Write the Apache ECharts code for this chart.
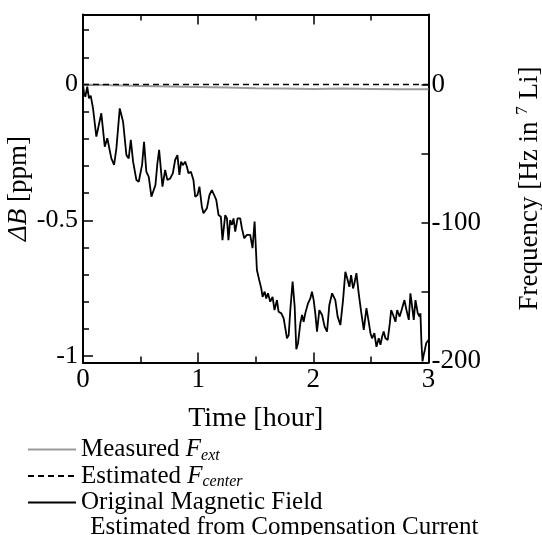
<!DOCTYPE html>
<html>
<head>
<meta charset="utf-8">
<script src="https://cdn.jsdelivr.net/npm/echarts@6/dist/echarts.min.js"></script>
<style>
    html, body { margin: 0; padding: 0; background: #fff; }
    #main { width: 542px; height: 535px; }
</style>
</head>
<body>
<div id="main"></div>
<script>
// original magnetic field estimated from compensation current (ppm)
var hours = [
    0, 0.009, 0.02, 0.037, 0.052, 0.067, 0.087, 0.116, 0.159, 0.189,
    0.211, 0.246, 0.27, 0.29, 0.319, 0.348, 0.377, 0.397, 0.415, 0.435,
    0.464, 0.484, 0.513, 0.53, 0.55, 0.571, 0.594, 0.611, 0.629, 0.646,
    0.661, 0.69, 0.713, 0.733, 0.757, 0.78, 0.8, 0.82, 0.837, 0.852,
    0.867, 0.887, 0.902, 0.916, 0.937, 0.959, 0.974, 0.994, 1.011, 1.032,
    1.046, 1.076, 1.098, 1.119, 1.139, 1.157, 1.177, 1.197, 1.211, 1.235,
    1.25, 1.263, 1.278, 1.293, 1.307, 1.322, 1.342, 1.365, 1.38, 1.4,
    1.423, 1.437, 1.452, 1.472, 1.49, 1.51, 1.53, 1.548, 1.559, 1.577,
    1.591, 1.606, 1.626, 1.646, 1.663, 1.684, 1.698, 1.722, 1.742, 1.757,
    1.771, 1.786, 1.8, 1.82, 1.838, 1.852, 1.867, 1.887, 1.902, 1.916,
    1.93, 1.954, 1.974, 1.988, 2.003, 2.017, 2.032, 2.052, 2.076, 2.098,
    2.119, 2.139, 2.163, 2.171, 2.191, 2.211, 2.235, 2.258, 2.278, 2.298,
    2.313, 2.328, 2.345, 2.357, 2.374, 2.394, 2.415, 2.438, 2.461, 2.481,
    2.496, 2.51, 2.53, 2.548, 2.568, 2.583, 2.597, 2.611, 2.626, 2.646,
    2.664, 2.676, 2.693, 2.713, 2.728, 2.75, 2.771, 2.791, 2.809, 2.829,
    2.843, 2.858, 2.872, 2.887, 2.907, 2.922, 2.93, 2.939, 2.948, 2.956,
    2.968, 2.98, 3.0
];
var fieldPpm = [
    0, -0.032, -0.045, -0.008, -0.051, -0.041, -0.088, -0.192, -0.106, -0.229,
    -0.198, -0.272, -0.296, -0.235, -0.088, -0.137, -0.26, -0.272, -0.204, -0.284,
    -0.352, -0.358, -0.296, -0.211, -0.321, -0.34, -0.413, -0.419, -0.37, -0.29,
    -0.241, -0.376, -0.315, -0.352, -0.346, -0.327, -0.278, -0.26, -0.333, -0.284,
    -0.297, -0.284, -0.303, -0.327, -0.321, -0.352, -0.413, -0.407, -0.376, -0.45,
    -0.474, -0.456, -0.407, -0.389, -0.407, -0.425, -0.481, -0.487, -0.573, -0.481,
    -0.493, -0.573, -0.499, -0.517, -0.493, -0.542, -0.493, -0.493, -0.53, -0.566,
    -0.554, -0.548, -0.554, -0.603, -0.505, -0.683, -0.72, -0.751, -0.782, -0.763,
    -0.788, -0.769, -0.8, -0.782, -0.831, -0.794, -0.837, -0.843, -0.861, -0.898,
    -0.935, -0.923, -0.831, -0.726, -0.818, -0.975, -0.953, -0.88, -0.849, -0.874,
    -0.843, -0.806, -0.788, -0.763, -0.794, -0.843, -0.91, -0.831, -0.849, -0.892,
    -0.91, -0.812, -0.769, -0.765, -0.794, -0.855, -0.886, -0.794, -0.69, -0.72,
    -0.745, -0.702, -0.751, -0.732, -0.695, -0.769, -0.837, -0.904, -0.824, -0.874,
    -0.916, -0.935, -0.916, -0.966, -0.935, -0.959, -0.929, -0.91, -0.935, -0.941,
    -0.88, -0.831, -0.849, -0.874, -0.831, -0.855, -0.824, -0.794, -0.831, -0.867,
    -0.769, -0.818, -0.867, -0.794, -0.843, -0.855, -0.843, -0.953, -1.02, -1.0,
    -0.978, -0.953, -0.941
];

// measured F_ext (ppm)
var measuredHours = [0, 0.25, 0.5, 0.75, 1.0, 1.25, 1.5, 1.75, 2.0, 2.25, 2.5, 2.75, 3.0];
var measuredPpm = [0, -0.003, -0.005, -0.007, -0.009, -0.011, -0.014, -0.015, -0.016, -0.015, -0.016, -0.017, -0.017];

// estimated F_center (ppm)
var centerHours = [0, 3];
var centerPpm = [0, 0];

// axis ticks
var ppmLabels = [-1, -0.5, 0];
var ppmMinorTicks = [-0.9, -0.8, -0.7, -0.6, -0.4, -0.3, -0.2, -0.1, 0.1, 0.2];
var hzLabels = [-200, -100, 0];
var hzTicks = [-150, -100, -50, 0];

var legendNames = ['Measured', 'Estimated', 'Original'];
var legendTexts = {
    'Measured': '{n|Measured }{f|F}{s|ext}',
    'Estimated': '{n|Estimated }{f|F}{s|center}',
    'Original': '{n|Original Magnetic Field}'
};

var serif = 'Liberation Serif';

function zip(xs, ys) {
    return xs.map(function(x, i) { return [x, ys[i]]; });
}

var frameLine = {show: true, onZero: false, lineStyle: {color: '#000', width: 2}};

var option = {
    animation: false,
    backgroundColor: '#fff',
    title: {
        text: ' Estimated from Compensation Current',
        left: 84,
        top: 515,
        padding: 0,
        textStyle: {fontFamily: serif, fontSize: 25, fontWeight: 'normal', color: '#000'}
    },
    legend: {
        data: legendNames,
        orient: 'vertical',
        left: 27,
        top: 437,
        padding: 0,
        itemWidth: 48,
        itemHeight: 12,
        itemGap: 0,
        itemStyle: {opacity: 0, borderWidth: 0},
        formatter: function(name) { return legendTexts[name]; },
        textStyle: {
            fontFamily: serif,
            fontSize: 25,
            color: '#000',
            rich: {
                n: {fontFamily: serif, fontSize: 25, color: '#000'},
                f: {fontFamily: serif, fontSize: 25, fontStyle: 'italic', color: '#000'},
                s: {fontFamily: serif, fontSize: 16, fontStyle: 'italic', color: '#000', padding: [12, 0, 0, 0]}
            }
        }
    },
    grid: {left: 83, top: 14.5, width: 345.5, height: 348, containLabel: false, outerBoundsMode: 'none'},
    xAxis: [
        {
            type: 'value',
            position: 'bottom',
            min: 0,
            max: 3,
            interval: 1,
            axisLine: frameLine,
            axisTick: {inside: true, length: 10, lineStyle: {color: '#000', width: 1.5}},
            minorTick: {show: true, splitNumber: 2, length: 6, lineStyle: {color: '#000', width: 1.5}},
            splitLine: {show: false},
            axisLabel: {fontFamily: serif, fontSize: 27, color: '#000', margin: 4},
            name: 'Time [hour]',
            nameLocation: 'middle',
            nameGap: 42,
            nameTextStyle: {fontFamily: serif, fontSize: 28, color: '#000'}
        },
        {
            type: 'value',
            position: 'top',
            min: 0,
            max: 3,
            interval: 1,
            axisLine: frameLine,
            axisTick: {inside: true, length: 10, lineStyle: {color: '#000', width: 1.5}},
            minorTick: {show: true, splitNumber: 2, length: 6, lineStyle: {color: '#000', width: 1.5}},
            splitLine: {show: false},
            axisLabel: {show: false}
        }
    ],
    yAxis: [
        {
            type: 'value',
            position: 'left',
            min: -1.024,
            max: 0.258,
            axisLine: frameLine,
            axisTick: {inside: true, length: 10, customValues: ppmLabels, lineStyle: {color: '#000', width: 1.5}},
            splitLine: {show: false},
            axisLabel: {customValues: ppmLabels, fontFamily: serif, fontSize: 26, color: '#000', margin: 5},
            name: '{i|ΔB} [ppm]',
            nameLocation: 'middle',
            nameRotate: 90,
            nameGap: 51,
            nameMoveOverlap: false,
            nameTextStyle: {
                fontFamily: serif, fontSize: 27, color: '#000',
                rich: {i: {fontFamily: serif, fontSize: 27, fontStyle: 'italic', color: '#000'}}
            }
        },
        {
            type: 'value',
            position: 'right',
            min: -201.1,
            max: 50.7,
            axisLine: frameLine,
            axisTick: {inside: true, length: 7, customValues: hzTicks, lineStyle: {color: '#000', width: 1.5}},
            splitLine: {show: false},
            axisLabel: {customValues: hzLabels, fontFamily: serif, fontSize: 27, color: '#000', margin: 3},
            name: 'Frequency [Hz in {sup|7} Li]',
            nameLocation: 'middle',
            nameRotate: 90,
            nameGap: 86,
            nameTextStyle: {
                fontFamily: serif, fontSize: 27, color: '#000',
                rich: {sup: {fontFamily: serif, fontSize: 17, color: '#000', padding: [0, 0, 14, 0]}}
            }
        },
        {
            type: 'value',
            position: 'left',
            min: -1.024,
            max: 0.258,
            axisLine: {show: false},
            axisTick: {inside: true, length: 6, customValues: ppmMinorTicks, lineStyle: {color: '#000', width: 1.5}},
            splitLine: {show: false},
            axisLabel: {show: false}
        }
    ],
    series: [
        {
            name: 'Original',
            type: 'line',
            showSymbol: false,
            symbol: 'none',
            lineStyle: {color: '#000', width: 1.8},
            itemStyle: {color: '#000'},
            data: zip(hours, fieldPpm)
        },
        {
            name: 'Measured',
            type: 'line',
            showSymbol: false,
            symbol: 'none',
            lineStyle: {color: '#999', width: 2},
            itemStyle: {color: '#999'},
            data: zip(measuredHours, measuredPpm)
        },
        {
            name: 'Estimated',
            type: 'line',
            showSymbol: false,
            symbol: 'none',
            lineStyle: {color: '#000', width: 1.5, type: [6, 4]},
            itemStyle: {color: '#000'},
            data: zip(centerHours, centerPpm)
        }
    ]
};

var myChart = echarts.init(document.getElementById('main'));
myChart.setOption(option);
</script>
</body>
</html>
